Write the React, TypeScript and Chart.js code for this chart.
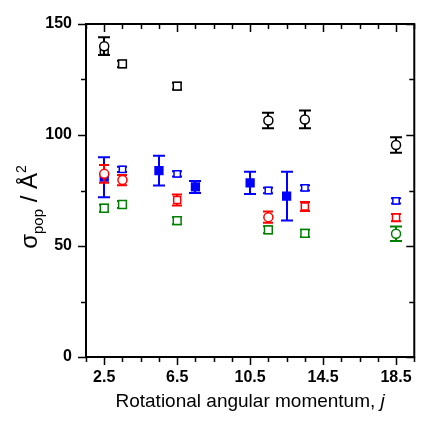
import React, { useEffect, useRef } from 'react';
import { Chart, registerables } from 'chart.js';
Chart.register(...registerables);

// Axis ticks
const xTickValues = [2.5, 6.5, 10.5, 14.5, 18.5];
const xTickLabels = ['2.5', '6.5', '10.5', '14.5', '18.5'];
const yTickValues = [0, 50, 100, 150];

// Black series
const blackCircleJ = [2.5, 11.5, 13.5, 18.5];
const blackCircleSigma = [140, 106.5, 107, 95.5];
const blackCircleErr = [4, 3.5, 4, 3.5];
const blackSquareJ = [2.5, 3.5, 6.5];
const blackSquareSigma = [138, 132, 122];
const blackSquareErr = [2, 1.5, 1.5];

// Blue series
const blueFilledJ = [2.5, 5.5, 7.5, 10.5, 12.5];
const blueFilledSigma = [81, 84, 76.6, 78.4, 72.5];
const blueFilledErr = [9, 6.7, 2.7, 5, 11];
const blueOpenJ = [3.5, 6.5, 11.5, 13.5, 18.5];
const blueOpenSigma = [84.5, 82.5, 75, 76.2, 70.3];
const blueOpenErr = [1.2, 1.2, 1.2, 1.2, 1.2];

// Red series
const redCircleJ = [2.5, 3.5, 11.5];
const redCircleSigma = [82.5, 79.7, 63];
const redCircleErr = [4, 2.3, 2.5];
const redSquareJ = [6.5, 13.5, 18.5];
const redSquareSigma = [70.7, 67.8, 62.8];
const redSquareErr = [2.5, 2, 1.6];

// Green series
const greenSquareJ = [2.5, 3.5, 6.5, 11.5, 13.5];
const greenSquareSigma = [67, 68.7, 61.4, 57.3, 55.7];
const greenSquareErr = [1.6, 1.6, 1.6, 1.6, 1.6];
const greenCircleJ = [18.5];
const greenCircleSigma = [55.5];
const greenCircleErr = [3.3];

const BLACK = '#000000';
const BLUE = '#0000ff';
const RED = '#ff0000';
const GREEN = '#008000';

const toPoints = (xs: number[], ys: number[]) => xs.map((x, i) => ({ x, y: ys[i] }));

const FONT = '"Liberation Sans", Arial, sans-serif';

const errorBarPlugin = {
  id: 'errorBars',
  beforeDatasetDraw(chart: any, args: any) {
    const ds: any = chart.data.datasets[args.index];
    if (!ds.errors) return;
    const xs = chart.scales.x;
    const ys = chart.scales.y;
    const ctx = chart.ctx;
    ctx.save();
    ctx.strokeStyle = ds.borderColor;
    ctx.lineCap = 'butt';
    const cap = ds.capHalf || 5;
    ds.data.forEach((p: any, i: number) => {
      const e = ds.errors[i];
      const px = Math.round(xs.getPixelForValue(p.x));
      const yt = ys.getPixelForValue(p.y + e);
      const yb = ys.getPixelForValue(p.y - e);
      ctx.lineWidth = 2;
      ctx.beginPath();
      ctx.moveTo(px, yt);
      ctx.lineTo(px, yb);
      ctx.stroke();
      ctx.lineWidth = 2;
      ctx.beginPath();
      ctx.moveTo(px - cap, yt);
      ctx.lineTo(px + cap, yt);
      ctx.moveTo(px - cap, yb);
      ctx.lineTo(px + cap, yb);
      ctx.stroke();
    });
    ctx.restore();
  },
};

const framePlugin = {
  id: 'frame',
  afterDraw(chart: any) {
    const { ctx, chartArea: a } = chart;
    const xs = chart.scales.x;
    const ys = chart.scales.y;
    ctx.save();
    ctx.strokeStyle = '#000';
    ctx.lineWidth = 2;
    ctx.strokeRect(a.left, a.top, a.right - a.left, a.bottom - a.top);
    ctx.lineWidth = 1.5;
    ctx.beginPath();
    // x ticks every 1, major every 4 starting at 2.5
    for (let v = 1.5; v <= 19.5001; v += 1) {
      const px = Math.round(xs.getPixelForValue(v)) + 0.5;
      const major = xTickValues.some((t) => Math.abs(t - v) < 1e-6);
      const len = major ? 8 : 5;
      ctx.moveTo(px, a.bottom);
      ctx.lineTo(px, a.bottom + len);
      ctx.moveTo(px, a.top);
      ctx.lineTo(px, a.top + len);
    }
    for (let v = 0; v <= 150.001; v += 25) {
      const py = Math.round(ys.getPixelForValue(v)) + 0.5;
      const major = yTickValues.some((t) => Math.abs(t - v) < 1e-6);
      const len = major ? 8 : 5;
      ctx.moveTo(a.left, py);
      ctx.lineTo(a.left - len, py);
      ctx.moveTo(a.right, py);
      ctx.lineTo(a.right - len, py);
    }
    ctx.stroke();

    // X title
    ctx.fillStyle = '#000';
    ctx.textBaseline = 'alphabetic';
    const main = 'Rotational angular momentum, ';
    const fMain = `19px ${FONT}`;
    const fIt = `italic 19px ${FONT}`;
    ctx.font = fMain;
    const w1 = ctx.measureText(main).width;
    ctx.font = fIt;
    const w2 = ctx.measureText('j').width;
    const cx = (a.left + a.right) / 2;
    let sx = cx - (w1 + w2) / 2;
    ctx.font = fMain;
    ctx.fillText(main, sx, 407);
    ctx.font = fIt;
    ctx.fillText('j', sx + w1, 407);

    // Y title (rotated)
    const parts = [
      { t: 'σ', f: `24px ${FONT}`, dy: 0 },
      { t: 'pop', f: `15px ${FONT}`, dy: 6 },
      { t: ' / Å', f: `24px ${FONT}`, dy: 0 },
      { t: '2', f: `14px ${FONT}`, dy: -11 },
    ];
    let total = 0;
    const widths = parts.map((p) => {
      ctx.font = p.f;
      const w = ctx.measureText(p.t).width;
      total += w;
      return w;
    });
    ctx.translate(37, 207);
    ctx.rotate(-Math.PI / 2);
    let tx = -total / 2;
    parts.forEach((p, i) => {
      ctx.font = p.f;
      ctx.fillText(p.t, tx, p.dy);
      tx += widths[i];
    });
    ctx.restore();
  },
};

export default function App() {
  const ref = useRef<HTMLCanvasElement>(null);
  useEffect(() => {
    Chart.defaults.font.family = FONT;
    const mk = (
      label: string,
      xs: number[],
      ys: number[],
      errs: number[],
      color: string,
      style: string,
      filled: boolean,
      radius: number,
      capHalf: number
    ) => ({
      label,
      data: toPoints(xs, ys),
      errors: errs,
      capHalf,
      borderColor: color,
      backgroundColor: filled ? color : '#ffffff',
      pointStyle: style,
      pointRadius: radius,
      pointBorderWidth: 1.5,
      showLine: false,
    });
    const chart = new Chart(ref.current as HTMLCanvasElement, {
      type: 'scatter',
      data: {
        datasets: [
          mk('red circles', redCircleJ, redCircleSigma, redCircleErr, RED, 'circle', false, 4.5, 5),
          mk('red squares', redSquareJ, redSquareSigma, redSquareErr, RED, 'rect', false, 5, 5),
          mk('black circles', blackCircleJ, blackCircleSigma, blackCircleErr, BLACK, 'circle', false, 4.5, 6),
          mk('black squares', blackSquareJ, blackSquareSigma, blackSquareErr, BLACK, 'rect', false, 5.5, 5),
          mk('green squares', greenSquareJ, greenSquareSigma, greenSquareErr, GREEN, 'rect', false, 5.5, 5),
          mk('green circles', greenCircleJ, greenCircleSigma, greenCircleErr, GREEN, 'circle', false, 4.5, 6),
          mk('blue open', blueOpenJ, blueOpenSigma, blueOpenErr, BLUE, 'rect', false, 4.5, 5),
          mk('blue filled', blueFilledJ, blueFilledSigma, blueFilledErr, BLUE, 'rect', true, 5.5, 6),
        ] as any,
      },
      options: {
        animation: false,
        responsive: false,
        layout: { padding: { left: 0, top: 24, right: 2, bottom: 0 } },
        plugins: { legend: { display: false }, tooltip: { enabled: false } },
        scales: {
          x: {
            type: 'linear',
            min: 1.5,
            max: 19.5,
            grid: { display: false, drawTicks: false },
            border: { display: false },
            afterBuildTicks: (s: any) => {
              s.ticks = xTickValues.map((v) => ({ value: v }));
            },
            afterFit: (s: any) => {
              s.height = 65;
            },
            ticks: {
              padding: 11,
              autoSkip: false,
              maxRotation: 0,
              color: '#000',
              font: { size: 16, weight: 'bold', family: FONT },
              callback: (v: any) => {
                const i = xTickValues.indexOf(Number(v));
                return i >= 0 ? xTickLabels[i] : '';
              },
            },
          },
          y: {
            type: 'linear',
            min: 0,
            max: 150,
            grid: { display: false, drawTicks: false },
            border: { display: false },
            afterBuildTicks: (s: any) => {
              s.ticks = yTickValues.map((v) => ({ value: v }));
            },
            afterFit: (s: any) => {
              s.width = 86;
            },
            ticks: {
              padding: 14,
              color: '#000',
              font: { size: 16, weight: 'bold', family: FONT },
            },
          },
        },
      },
      plugins: [errorBarPlugin, framePlugin],
    } as any);
    return () => chart.destroy();
  }, []);
  return (
    <div style={{ position: 'fixed', left: 0, top: 0, width: 423, height: 422, background: '#fff' }}>
      <canvas ref={ref} width={423} height={422} style={{ display: 'block' }} />
    </div>
  );
}
